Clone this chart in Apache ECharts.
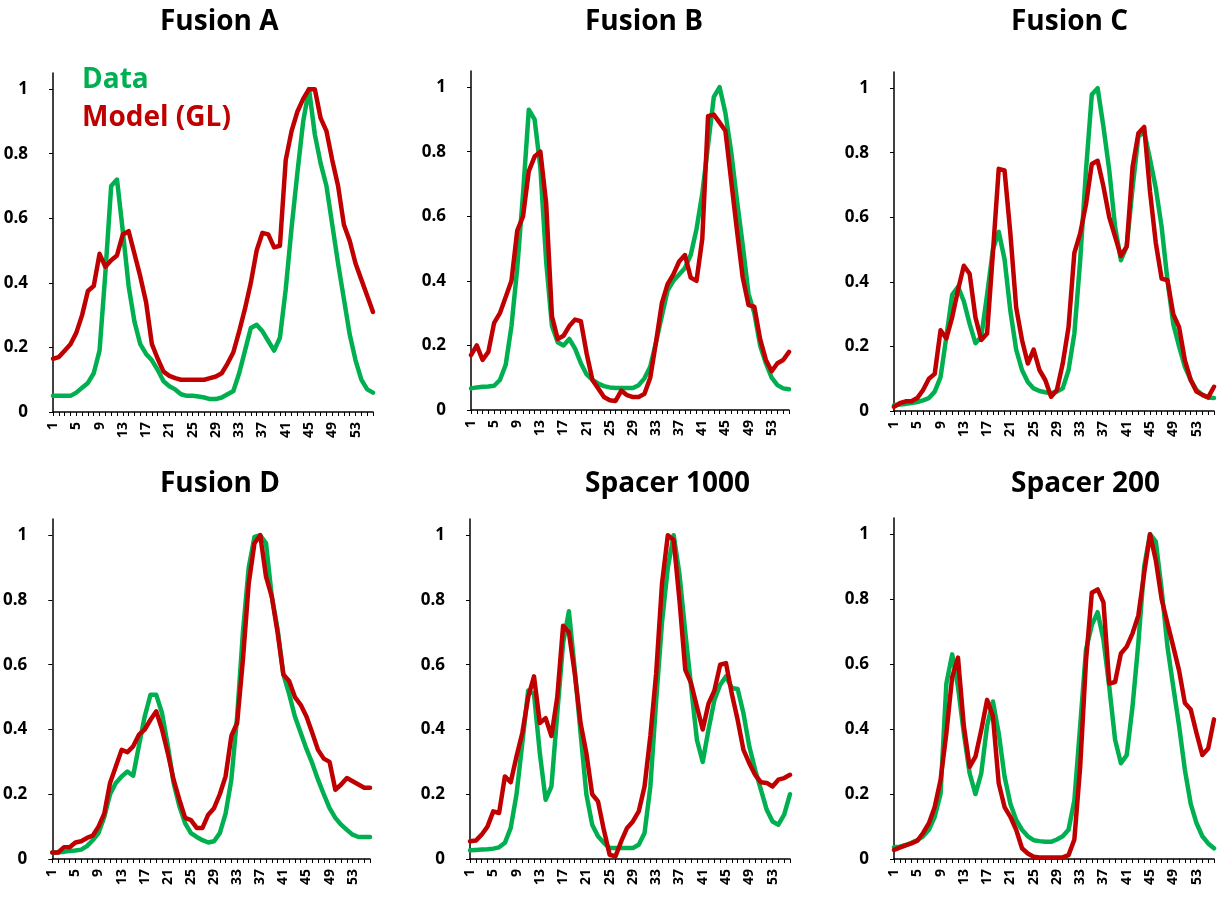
<!DOCTYPE html>
<html>
<head>
<meta charset="utf-8">
<script src="https://cdn.jsdelivr.net/npm/echarts@6/dist/echarts.min.js"></script>
<style>
  html, body { margin: 0; padding: 0; background: #fff; }
  #chart { width: 1225px; height: 899px; }
</style>
</head>
<body>
<div id="chart"></div>
<script>
// Position index along each profile (1..56)
const categories = [];
for (let i = 1; i <= 56; i++) categories.push(String(i));

const panelTitles = ['Fusion A', 'Fusion B', 'Fusion C', 'Fusion D', 'Spacer 1000', 'Spacer 200'];
const yTicks = [0, 0.2, 0.4, 0.6, 0.8, 1];

// Measured profiles ("Data")
const dataFusionA = [0.05,0.05,0.05,0.05,0.06,0.075,0.09,0.12,0.19,0.43, 0.70,0.72,0.56,0.39,0.28,0.21,0.18,0.16,0.13,0.095, 0.08,0.07,0.055,0.05,0.05,0.048,0.045,0.04,0.04,0.045, 0.055,0.065,0.12,0.19,0.26,0.27,0.25,0.22,0.19,0.23, 0.38,0.57,0.74,0.9,1.0,0.86,0.77,0.70,0.58,0.46, 0.35,0.24,0.16,0.1,0.07,0.06];
const dataFusionB = [0.067,0.07,0.072,0.073,0.075,0.093,0.14,0.26,0.44,0.67, 0.93,0.90,0.75,0.46,0.26,0.21,0.20,0.22,0.19,0.145, 0.11,0.093,0.082,0.074,0.07,0.068,0.068,0.068,0.068,0.077, 0.098,0.134,0.21,0.29,0.37,0.40,0.42,0.44,0.48,0.56, 0.67,0.82,0.97,1.0,0.92,0.80,0.65,0.51,0.36,0.30, 0.2,0.145,0.10,0.077,0.067,0.064];
const dataFusionC = [0.018,0.02,0.022,0.025,0.028,0.033,0.04,0.06,0.105,0.23, 0.36,0.385,0.34,0.27,0.21,0.23,0.36,0.50,0.555,0.47, 0.31,0.19,0.127,0.09,0.07,0.062,0.058,0.055,0.06,0.07, 0.127,0.24,0.467,0.745,0.98,1.0,0.88,0.745,0.57,0.467, 0.51,0.69,0.85,0.865,0.78,0.69,0.57,0.405,0.27,0.2, 0.137,0.096,0.065,0.05,0.042,0.04];
const dataFusionD = [0.02,0.02,0.022,0.025,0.026,0.029,0.04,0.058,0.08,0.13, 0.2,0.235,0.255,0.27,0.257,0.35,0.44,0.507,0.507,0.45, 0.35,0.235,0.163,0.11,0.08,0.068,0.058,0.051,0.055,0.08, 0.14,0.245,0.44,0.70,0.90,0.995,1.0,0.975,0.81,0.71, 0.57,0.51,0.44,0.39,0.34,0.296,0.245,0.2,0.157,0.127, 0.106,0.09,0.075,0.068,0.068,0.068];
const dataSpacer1000 = [0.027,0.028,0.029,0.03,0.032,0.036,0.05,0.096,0.2,0.36, 0.52,0.51,0.327,0.183,0.224,0.45,0.667,0.765,0.585,0.39, 0.2,0.106,0.07,0.05,0.034,0.034,0.034,0.034,0.034,0.044, 0.08,0.224,0.49,0.73,0.90,1.0,0.88,0.70,0.533,0.368, 0.30,0.40,0.49,0.538,0.564,0.528,0.525,0.45,0.348,0.276, 0.214,0.152,0.116,0.106,0.137,0.2];
const dataSpacer200 = [0.036,0.038,0.043,0.05,0.058,0.07,0.09,0.13,0.2,0.54, 0.63,0.53,0.387,0.264,0.2,0.264,0.41,0.485,0.387,0.254, 0.17,0.12,0.09,0.07,0.058,0.055,0.053,0.053,0.06,0.07, 0.09,0.18,0.41,0.645,0.72,0.76,0.675,0.53,0.367,0.295, 0.32,0.47,0.665,0.90,1.0,0.977,0.83,0.654,0.53,0.41, 0.274,0.17,0.11,0.07,0.048,0.033];

// Model predictions ("Model (GL)")
const modelFusionA = [0.165,0.17,0.19,0.21,0.245,0.30,0.375,0.39,0.49,0.45, 0.47,0.485,0.55,0.56,0.49,0.42,0.34,0.21,0.165,0.125, 0.112,0.105,0.10,0.10,0.10,0.10,0.10,0.105,0.11,0.12, 0.15,0.185,0.25,0.32,0.40,0.50,0.555,0.55,0.51,0.515, 0.78,0.87,0.93,0.97,1.0,1.0,0.91,0.87,0.78,0.70, 0.58,0.53,0.46,0.41,0.36,0.31];
const modelFusionB = [0.17,0.20,0.155,0.18,0.27,0.30,0.35,0.40,0.556,0.60, 0.74,0.785,0.80,0.64,0.29,0.22,0.23,0.26,0.28,0.275, 0.175,0.093,0.067,0.04,0.03,0.028,0.06,0.046,0.04,0.04, 0.05,0.10,0.21,0.33,0.39,0.42,0.46,0.48,0.41,0.40, 0.53,0.91,0.915,0.89,0.865,0.71,0.556,0.41,0.325,0.32, 0.22,0.155,0.12,0.145,0.155,0.18];
const modelFusionC = [0.013,0.024,0.03,0.03,0.04,0.065,0.10,0.115,0.25,0.225, 0.29,0.375,0.45,0.425,0.29,0.22,0.24,0.49,0.75,0.745, 0.55,0.32,0.22,0.147,0.19,0.127,0.096,0.044,0.065,0.147, 0.26,0.49,0.55,0.64,0.765,0.775,0.695,0.60,0.54,0.48, 0.51,0.755,0.86,0.88,0.68,0.52,0.41,0.405,0.30,0.26, 0.157,0.096,0.06,0.05,0.042,0.075];
const modelFusionD = [0.02,0.02,0.036,0.036,0.051,0.055,0.065,0.072,0.10,0.14, 0.235,0.286,0.337,0.33,0.348,0.384,0.40,0.43,0.456,0.40, 0.327,0.245,0.183,0.127,0.12,0.096,0.096,0.137,0.157,0.2, 0.255,0.38,0.42,0.615,0.85,0.975,1.0,0.872,0.81,0.70, 0.57,0.55,0.50,0.476,0.44,0.39,0.337,0.31,0.30,0.214, 0.23,0.25,0.24,0.23,0.22,0.22];
const modelSpacer1000 = [0.055,0.057,0.075,0.10,0.147,0.142,0.255,0.237,0.317,0.39, 0.50,0.564,0.42,0.435,0.38,0.50,0.72,0.70,0.574,0.42, 0.327,0.2,0.178,0.09,0.013,0.008,0.055,0.096,0.116,0.147, 0.224,0.38,0.574,0.85,1.0,0.985,0.80,0.584,0.543,0.47, 0.40,0.48,0.52,0.60,0.605,0.51,0.43,0.337,0.296,0.26, 0.237,0.235,0.224,0.245,0.25,0.26];
const modelSpacer200 = [0.028,0.035,0.042,0.048,0.056,0.08,0.11,0.16,0.243,0.387, 0.56,0.62,0.41,0.284,0.315,0.397,0.49,0.44,0.233,0.16, 0.13,0.09,0.033,0.017,0.007,0.005,0.005,0.005,0.005,0.005, 0.012,0.06,0.284,0.61,0.82,0.83,0.79,0.54,0.545,0.633, 0.654,0.695,0.75,0.88,1.0,0.92,0.80,0.726,0.654,0.58, 0.48,0.46,0.387,0.32,0.34,0.43];

const dataSets = [dataFusionA, dataFusionB, dataFusionC, dataFusionD, dataSpacer1000, dataSpacer200];
const modelSets = [modelFusionA, modelFusionB, modelFusionC, modelFusionD, modelSpacer1000, modelSpacer200];

const GREEN = '#00B050';
const RED = '#C00000';
const FONT = '"Open Sans", Lato, sans-serif';

// Plot rectangles of the 2x3 panel layout; tx = left edge of the panel title
const panels = [
  { left: 53,  top: 73,  width: 320, height: 339, tx: 160 },
  { left: 471, top: 71,  width: 318, height: 339, tx: 585 },
  { left: 894, top: 72,  width: 320, height: 339, tx: 1011 },
  { left: 51,  top: 519, width: 319, height: 340, tx: 160 },
  { left: 470, top: 519, width: 320, height: 340, tx: 585 },
  { left: 894, top: 518, width: 320, height: 341, tx: 1011 }
];

const grid = [], xAxis = [], yAxis = [], series = [], title = [];
panels.forEach((p, i) => {
  grid.push({ left: p.left, top: p.top, width: p.width, height: p.height, containLabel: false });
  title.push({
    text: panelTitles[i],
    left: p.tx, top: i < 3 ? 8 : 470, padding: 0,
    textStyle: { fontFamily: FONT, fontWeight: 'bold', fontSize: 28, color: '#000' }
  });
  xAxis.push({
    type: 'category', gridIndex: i, data: categories, boundaryGap: false,
    axisLine: { lineStyle: { color: '#000', width: 1.5 } },
    axisTick: { show: true, interval: 0, length: 4, lineStyle: { color: '#000', width: 1 } },
    axisLabel: {
      interval: 3, rotate: 90, margin: 10,
      fontFamily: FONT, fontWeight: 'bold', fontSize: 14, color: '#000'
    },
    splitLine: { show: false }
  });
  yAxis.push({
    type: 'value', gridIndex: i, min: 0, max: 1.05, interval: 0.2,
    axisLine: { show: true, lineStyle: { color: '#000', width: 1.5 } },
    axisTick: { show: true, length: 4, customValues: yTicks, lineStyle: { color: '#000', width: 1 } },
    axisLabel: {
      show: true, margin: 25, showMaxLabel: false,
      formatter: v => (yTicks.some(t => Math.abs(t - v) < 1e-9) ? String(+v.toFixed(1)) : ''),
      fontFamily: FONT, fontWeight: 'bold', fontSize: 17, color: '#000'
    },
    splitLine: { show: false }
  });
  series.push({
    name: 'Data', type: 'line', xAxisIndex: i, yAxisIndex: i,
    data: dataSets[i], showSymbol: false, symbol: 'none', smooth: false,
    lineStyle: { color: GREEN, width: 4.5, join: 'round', cap: 'round' },
    itemStyle: { color: GREEN }, z: 2
  });
  series.push({
    name: 'Model (GL)', type: 'line', xAxisIndex: i, yAxisIndex: i,
    data: modelSets[i], showSymbol: false, symbol: 'none', smooth: false,
    lineStyle: { color: RED, width: 4.5, join: 'round', cap: 'round' },
    itemStyle: { color: RED }, z: 3
  });
});

const chart = echarts.init(document.getElementById('chart'), null, { renderer: 'canvas' });
chart.setOption({
  animation: false,
  backgroundColor: '#fff',
  title: title,
  legend: {
    left: 72, top: 61, orient: 'vertical',
    icon: 'none', itemWidth: 0, itemHeight: 0, itemGap: 10,
    data: [
      { name: 'Data', textStyle: { color: GREEN } },
      { name: 'Model (GL)', textStyle: { color: RED } }
    ],
    textStyle: { fontFamily: FONT, fontWeight: 'bold', fontSize: 28 }
  },
  grid: grid,
  xAxis: xAxis,
  yAxis: yAxis,
  series: series
});
</script>
</body>
</html>
